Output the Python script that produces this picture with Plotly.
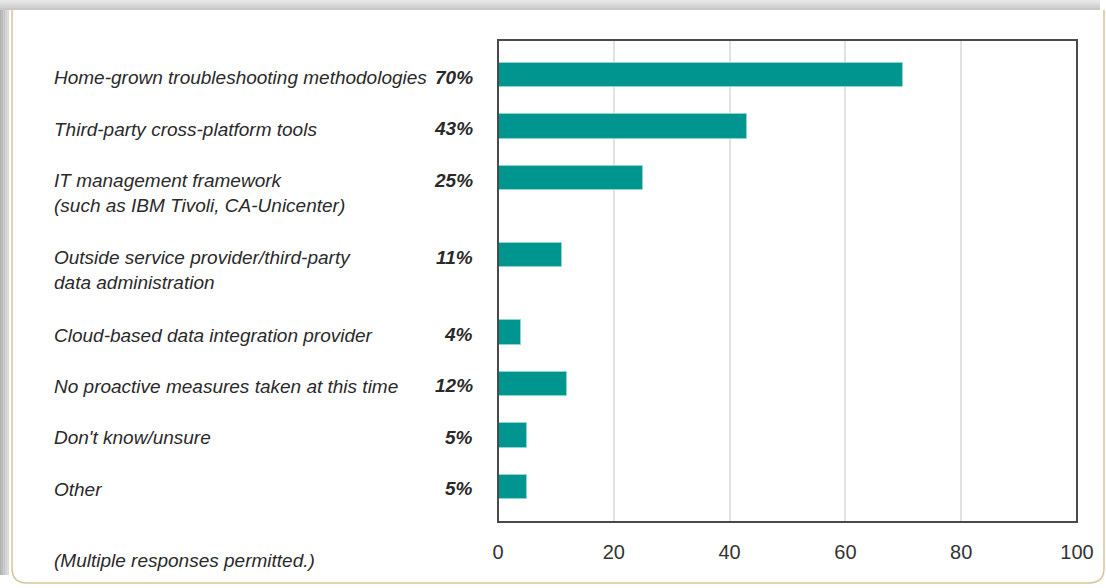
import plotly.graph_objects as go

categories = [
    "Home-grown troubleshooting methodologies",
    "Third-party cross-platform tools",
    "IT management framework<br>(such as IBM Tivoli, CA-Unicenter)",
    "Outside service provider/third-party<br>data administration",
    "Cloud-based data integration provider",
    "No proactive measures taken at this time",
    "Don't know/unsure",
    "Other",
]
values = [70, 43, 25, 11, 4, 12, 5, 5]
value_labels = ["70%", "43%", "25%", "11%", "4%", "12%", "5%", "5%"]
x_ticks = [0, 20, 40, 60, 80, 100]
footnote = "(Multiple responses permitted.)"

W, H = 1106, 588
L, R, T, B = 498, 1077, 40, 522

# row positions: each row advances 1 unit plus half a unit per extra text line
positions = []
pos = 0.0
for c in categories:
    positions.append(pos)
    pos += 1 + 0.5 * c.count("<br>")

FONT = "Liberation Sans Narrow, Liberation Sans, Arial, sans-serif"
TEAL = "#00968f"
TXT = "#2a2a2a"
FS = 19

fig = go.Figure()
fig.add_trace(go.Bar(
    x=values, y=positions, orientation="h", width=0.47,
    marker=dict(color=TEAL, line=dict(color="#8fd6d1", width=1)),
    hoverinfo="skip", showlegend=False,
))

def px(xp):
    return (xp - L) / (R - L)

def py(yp):
    return (B - yp) / (B - T)

shapes = []
# shadow bands
tops = ["#e8e8e8", "#e0e0e0", "#d8d8d8", "#d0d0d0", "#c8c8c8"]
for i, col in enumerate(tops):
    shapes.append(dict(type="rect", xref="paper", yref="paper", layer="below",
                       x0=px(0), x1=px(1100), y0=py(2 * i), y1=py(2 * i + 2),
                       fillcolor=col, line=dict(width=0)))
lefts = ["#b0b0b0", "#bababa", "#c4c4c4", "#cfcfcf", "#dadada"]
for i, col in enumerate(lefts):
    shapes.append(dict(type="rect", xref="paper", yref="paper", layer="below",
                       x0=px(1.8 * i), x1=px(1.8 * i + 1.8), y0=py(10), y1=py(575),
                       fillcolor=col, line=dict(width=0)))
# card border (tan, rounded at bottom)
r = 15
path = (f"M {px(12)},{py(10)} L {px(12)},{py(583 - r)} "
        f"Q {px(12)},{py(583)} {px(12 + r)},{py(583)} "
        f"L {px(1104 - r)},{py(583)} "
        f"Q {px(1104)},{py(583)} {px(1104)},{py(583 - r)} "
        f"L {px(1104)},{py(10)}")
shapes.append(dict(type="path", xref="paper", yref="paper", layer="below",
                   path=path, fillcolor="white", line=dict(color="#d9c39a", width=1.5)))
# plot frame
shapes.append(dict(type="rect", xref="paper", yref="paper", layer="above",
                   x0=0, x1=1, y0=0, y1=1, line=dict(color="#4a4a4a", width=2)))

annotations = []
for c, lab, yv in zip(categories, value_labels, positions):
    italic = "<i>" + c.replace("<br>", "</i><br><i>") + "</i>"
    annotations.append(dict(
        x=0, xref="paper", y=yv, yref="y", text=italic, showarrow=False,
        xanchor="left", yanchor="top", align="left", xshift=52 - L,
        yshift=10, font=dict(family=FONT, size=FS, color=TXT),
    ))
    annotations.append(dict(
        x=0, xref="paper", y=yv, yref="y", text=f"<b><i>{lab}</i></b>",
        showarrow=False, xanchor="right", yanchor="middle", xshift=-23, yshift=-2,
        font=dict(family=FONT, size=FS, color=TXT),
    ))
annotations.append(dict(
    x=0, xref="paper", y=py(560), yref="paper", text=f"<i>{footnote}</i>", showarrow=False,
    xanchor="left", yanchor="middle", xshift=52 - L,
    font=dict(family=FONT, size=FS, color=TXT),
))

fig.update_layout(
    width=W, height=H,
    margin=dict(l=L, r=W - R, t=T, b=H - B, pad=0),
    paper_bgcolor="white", plot_bgcolor="white",
    font=dict(family=FONT, color=TXT),
    shapes=shapes, annotations=annotations,
    xaxis=dict(range=[0, 100], tickvals=x_ticks, showgrid=True, gridcolor="#e2e2e2",
               gridwidth=2, zeroline=False, showline=False, ticks="",
               tickfont=dict(family=FONT, size=20, color="#333333"), ticklabelstandoff=16),
    yaxis=dict(range=[positions[-1] + 0.68, -0.68], showticklabels=False, showgrid=False,
               zeroline=False, showline=False, ticks=""),
    bargap=0,
)

fig.write_html("out.html", config={"displayModeBar": False},
               post_script="document.body.style.margin='0';")
